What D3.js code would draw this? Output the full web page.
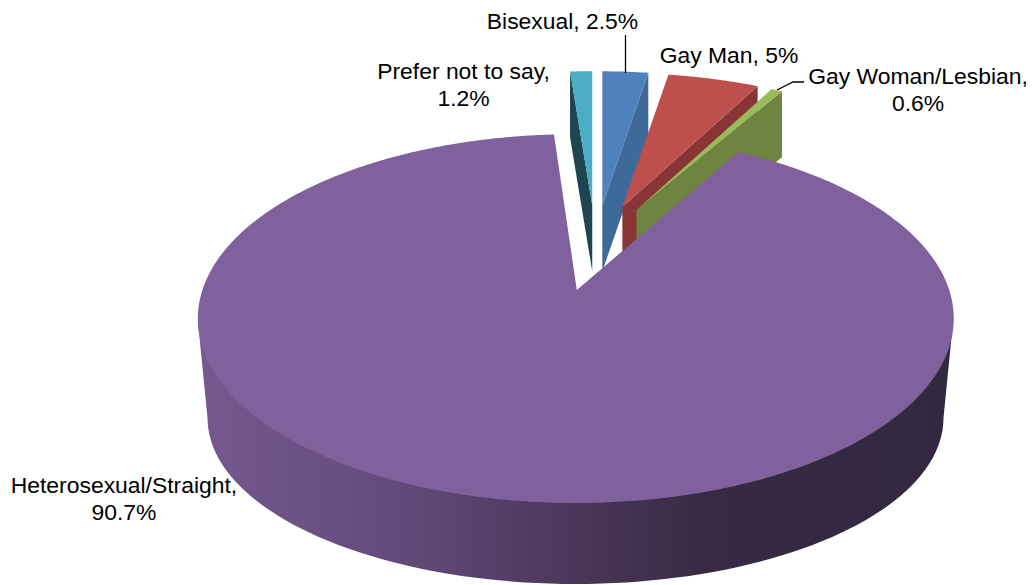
<!DOCTYPE html>
<html><head><meta charset="utf-8">
<script src="https://cdn.jsdelivr.net/npm/d3@7"></script>
<style>html,body{margin:0;padding:0;background:#fff}svg{display:block}text{font-family:"Liberation Sans",Arial,sans-serif;font-size:22.9px;fill:#000}</style>
</head><body><svg id="c" width="1032" height="585"></svg>
<script>
const categories = ["Bisexual","Gay Man","Gay Woman/Lesbian","Heterosexual/Straight","Prefer not to say"];
const values = [2.5,5,0.6,90.7,1.2];
const valueLabels = ["2.5%","5%","0.6%","90.7%","1.2%"];
const topColors = ["#4f81bd","#bd4f4c","#9abb59","#7f619d","#4aacc5"];
const sideColors = ["#3e6a9a","#8a3535","#6f8440","#5e4674","#1f4650"];

const svg = d3.select("#c");
const pie = d3.pie().sort(null).value(d=>d).startAngle(0).endAngle(2*Math.PI)(values);
const slices = pie.map((p,i)=>({...p,i,name:categories[i]}));

// view geometry (tilted, perspective ellipse)
const CX=595.5, CY=248, EX=87, EY=43, DEPTH=66;
function apex(s){const m=(s.startAngle+s.endAngle)/2;return [CX+EX*Math.sin(m),CY-EY*Math.cos(m)];}
function rim(s,a0){
  const big=s.i===3, rx=big?373.4:338, ry=big?180:154, K=big?0.155:0.151, c=apex(s);
  const a=big?a0+0.008:a0, dx=big?-1:0;
  const w=1+K*Math.cos(a);
  return [c[0]+dx+rx*Math.sin(a)/w, c[1]-ry*Math.cos(a)/w];}
const line=d3.line();
function topPath(s){
  const n=Math.max(4,Math.ceil((s.endAngle-s.startAngle)/0.01));
  const pts=[apex(s)].concat(d3.range(n+1).map(j=>rim(s,s.startAngle+(s.endAngle-s.startAngle)*j/n)));
  return line(pts)+"Z";
}
function facePath(s,a){
  const c=apex(s), o=rim(s,a);
  return line([c,o,[o[0],o[1]+DEPTH],[c[0],c[1]+DEPTH]])+"Z";
}

const defs=svg.append("defs");
const grad=defs.append("linearGradient").attr("id","rimGrad").attr("gradientUnits","userSpaceOnUse")
  .attr("x1",197).attr("x2",954).attr("y1",0).attr("y2",0);
[[0,"#75598f"],[0.25,"#654b7d"],[0.5,"#4b365a"],[0.68,"#372a42"],[1,"#322840"]].forEach(d=>
  grad.append("stop").attr("offset",d[0]).attr("stop-color",d[1]));

// draw order: far slices first, the large slice last
[4,0,1,2].forEach(i=>{
  const s=slices[i];
  const a = i===4 ? s.startAngle : s.endAngle;
  svg.append("path").attr("d",facePath(s,a)).attr("fill",sideColors[i]);
  svg.append("path").attr("d",topPath(s)).attr("fill",topColors[i]);
});

// large slice: outer wall
const big=slices[3];
const topCX=575.5, topCY=322, topRX=377.5, botRX=368, botCY=418, botRY=166;
const wall=[[topCX-topRX,topCY]].concat(
  d3.range(0,181,2).map(t=>{const r=t*Math.PI/180;return [topCX-botRX*Math.cos(r),botCY+botRY*Math.sin(r)];}),
  [[topCX+topRX,topCY]]);
svg.append("path").attr("d",line(wall)+"Z").attr("fill","url(#rimGrad)");
svg.append("path").attr("d",topPath(big)).attr("fill",topColors[3]);

// leaders
const lead=d3.line();
svg.append("path").attr("d",lead([[625.5,35],[625.5,73]])).attr("fill","none").attr("stroke","#000").attr("stroke-width",1.3);
svg.append("path").attr("d",lead([[804,82],[793,82],[777,90]])).attr("fill","none").attr("stroke","#000").attr("stroke-width",1.3);

// labels
const labels=[
 {i:0,lines:[categories[0]+", "+valueLabels[0]],x:562.5,y:29},
 {i:1,lines:[categories[1]+", "+valueLabels[1]],x:729,y:63},
 {i:2,lines:[categories[2]+",",valueLabels[2]],x:918,y:84},
 {i:4,lines:[categories[4]+",",valueLabels[4]],x:463.5,y:79},
 {i:3,lines:[categories[3]+",",valueLabels[3]],x:124,y:493}];
labels.forEach(l=>{
  const t=svg.append("text").attr("text-anchor","middle");
  l.lines.forEach((x,j)=>t.append("tspan").attr("x",l.x).attr("y",l.y+j*27).text(x));
});
</script></body></html>
